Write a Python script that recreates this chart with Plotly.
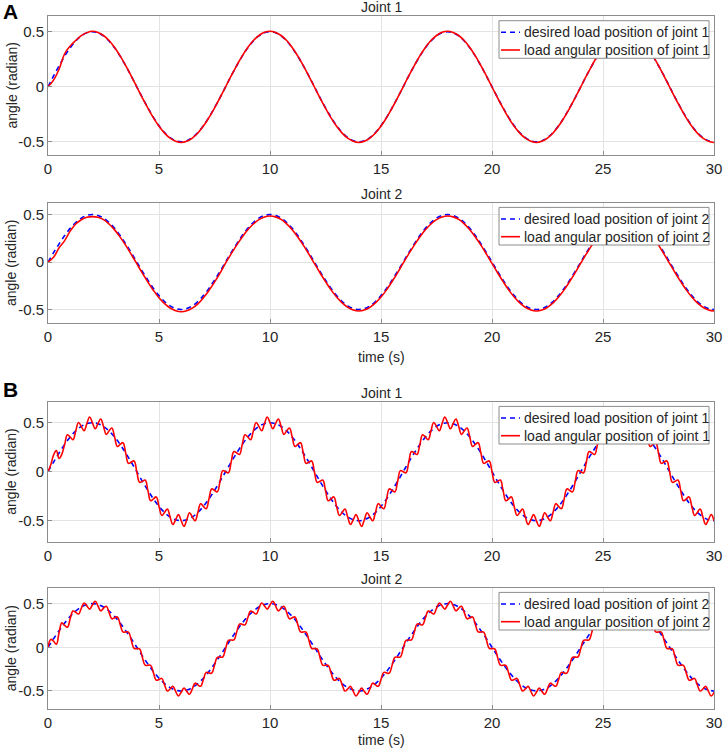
import numpy as np
import plotly.graph_objects as go

# ---------------- data ----------------
# time grids (s)
time_coarse = np.arange(0, 30.0001, 0.25)   # 121 samples
time_fine = np.arange(0, 30.0001, 0.125)    # 241 samples

# desired load position (same reference for both joints), sampled every 0.25 s
desired_pos = [
    0.000, 0.098, 0.191, 0.278, 0.354, 0.416, 0.462, 0.490, 0.500, 0.490, 0.462, 0.416, 0.354, 0.278, 0.191, 0.098,
    0.000, -0.098, -0.191, -0.278, -0.354, -0.416, -0.462, -0.490, -0.500, -0.490, -0.462, -0.416, -0.354, -0.278, -0.191, -0.098,
    0.000, 0.098, 0.191, 0.278, 0.354, 0.416, 0.462, 0.490, 0.500, 0.490, 0.462, 0.416, 0.354, 0.278, 0.191, 0.098,
    0.000, -0.098, -0.191, -0.278, -0.354, -0.416, -0.462, -0.490, -0.500, -0.490, -0.462, -0.416, -0.354, -0.278, -0.191, -0.098,
    0.000, 0.098, 0.191, 0.278, 0.354, 0.416, 0.462, 0.490, 0.500, 0.490, 0.462, 0.416, 0.354, 0.278, 0.191, 0.098,
    0.000, -0.098, -0.191, -0.278, -0.354, -0.416, -0.462, -0.490, -0.500, -0.490, -0.462, -0.416, -0.354, -0.278, -0.191, -0.098,
    0.000, 0.098, 0.191, 0.278, 0.354, 0.416, 0.462, 0.490, 0.500, 0.490, 0.462, 0.416, 0.354, 0.278, 0.191, 0.098,
    0.000, -0.098, -0.191, -0.278, -0.354, -0.416, -0.462, -0.490, -0.500,
]

# Panel A, joint 1: load angular position (every 0.25 s)
a_joint1_load = [
    0.000, 0.060, 0.160, 0.300, 0.370, 0.420, 0.465, 0.492, 0.505, 0.494, 0.466, 0.420, 0.357, 0.280, 0.192, 0.097,
    -0.002, -0.101, -0.195, -0.283, -0.359, -0.421, -0.467, -0.495, -0.506, -0.495, -0.466, -0.420, -0.357, -0.280, -0.193, -0.099,
    0.000, 0.099, 0.193, 0.281, 0.357, 0.420, 0.466, 0.495, 0.505, 0.494, 0.466, 0.420, 0.357, 0.280, 0.192, 0.097,
    -0.002, -0.101, -0.195, -0.283, -0.359, -0.421, -0.467, -0.495, -0.506, -0.495, -0.466, -0.420, -0.357, -0.280, -0.193, -0.099,
    0.000, 0.099, 0.193, 0.281, 0.357, 0.420, 0.466, 0.495, 0.505, 0.494, 0.466, 0.420, 0.357, 0.280, 0.192, 0.097,
    -0.002, -0.101, -0.195, -0.283, -0.359, -0.421, -0.467, -0.495, -0.506, -0.495, -0.466, -0.420, -0.357, -0.280, -0.193, -0.099,
    0.000, 0.099, 0.193, 0.281, 0.357, 0.420, 0.466, 0.495, 0.505, 0.494, 0.466, 0.420, 0.357, 0.280, 0.192, 0.097,
    -0.002, -0.101, -0.195, -0.283, -0.359, -0.421, -0.467, -0.495, -0.506,
]

# Panel A, joint 2: load angular position (every 0.25 s)
a_joint2_load = [
    0.000, 0.050, 0.150, 0.225, 0.325, 0.400, 0.445, 0.470, 0.478, 0.470, 0.446, 0.400, 0.338, 0.262, 0.175, 0.080,
    -0.018, -0.117, -0.211, -0.299, -0.376, -0.438, -0.484, -0.512, -0.524, -0.514, -0.486, -0.440, -0.377, -0.300, -0.212, -0.116,
    -0.012, 0.085, 0.178, 0.264, 0.339, 0.400, 0.446, 0.474, 0.484, 0.475, 0.448, 0.402, 0.340, 0.264, 0.177, 0.083,
    -0.015, -0.113, -0.206, -0.293, -0.368, -0.430, -0.476, -0.504, -0.515, -0.505, -0.477, -0.431, -0.369, -0.293, -0.205, -0.111,
    -0.012, 0.085, 0.178, 0.264, 0.339, 0.400, 0.446, 0.474, 0.484, 0.475, 0.448, 0.402, 0.340, 0.264, 0.177, 0.083,
    -0.015, -0.113, -0.206, -0.293, -0.368, -0.430, -0.476, -0.504, -0.515, -0.505, -0.477, -0.431, -0.369, -0.293, -0.205, -0.111,
    -0.012, 0.085, 0.178, 0.264, 0.339, 0.400, 0.446, 0.474, 0.484, 0.475, 0.448, 0.402, 0.340, 0.264, 0.177, 0.083,
    -0.015, -0.113, -0.206, -0.293, -0.368, -0.430, -0.476, -0.504, -0.515,
]

# Panel B, joint 1: load angular position with ripple (every 0.125 s)
b_joint1_load = [
    0.000, 0.070, 0.170, 0.215, 0.135, 0.180, 0.278, 0.377, 0.354, 0.326, 0.416, 0.501, 0.462, 0.418, 0.490, 0.558,
    0.500, 0.438, 0.490, 0.538, 0.462, 0.381, 0.416, 0.446, 0.354, 0.257, 0.278, 0.296, 0.191, 0.085, 0.098, 0.109,
    0.000, -0.109, -0.098, -0.085, -0.191, -0.296, -0.278, -0.257, -0.354, -0.446, -0.416, -0.381, -0.462, -0.538, -0.490, -0.438,
    -0.500, -0.558, -0.490, -0.418, -0.462, -0.501, -0.416, -0.326, -0.354, -0.377, -0.278, -0.176, -0.191, -0.205, -0.098, 0.011,
    0.000, -0.011, 0.098, 0.205, 0.191, 0.176, 0.278, 0.377, 0.354, 0.326, 0.416, 0.501, 0.462, 0.418, 0.490, 0.558,
    0.500, 0.438, 0.490, 0.538, 0.462, 0.381, 0.416, 0.446, 0.354, 0.257, 0.278, 0.296, 0.191, 0.085, 0.098, 0.109,
    0.000, -0.109, -0.098, -0.085, -0.191, -0.296, -0.278, -0.257, -0.354, -0.446, -0.416, -0.381, -0.462, -0.538, -0.490, -0.438,
    -0.500, -0.558, -0.490, -0.418, -0.462, -0.501, -0.416, -0.326, -0.354, -0.377, -0.278, -0.176, -0.191, -0.205, -0.098, 0.011,
    0.000, -0.011, 0.098, 0.205, 0.191, 0.176, 0.278, 0.377, 0.354, 0.326, 0.416, 0.501, 0.462, 0.418, 0.490, 0.558,
    0.500, 0.438, 0.490, 0.538, 0.462, 0.381, 0.416, 0.446, 0.354, 0.257, 0.278, 0.296, 0.191, 0.085, 0.098, 0.109,
    0.000, -0.109, -0.098, -0.085, -0.191, -0.296, -0.278, -0.257, -0.354, -0.446, -0.416, -0.381, -0.462, -0.538, -0.490, -0.438,
    -0.500, -0.558, -0.490, -0.418, -0.462, -0.501, -0.416, -0.326, -0.354, -0.377, -0.278, -0.176, -0.191, -0.205, -0.098, 0.011,
    0.000, -0.011, 0.098, 0.205, 0.191, 0.176, 0.278, 0.377, 0.354, 0.326, 0.416, 0.501, 0.462, 0.418, 0.490, 0.558,
    0.500, 0.438, 0.490, 0.538, 0.462, 0.381, 0.416, 0.446, 0.354, 0.257, 0.278, 0.296, 0.191, 0.085, 0.098, 0.109,
    0.000, -0.109, -0.098, -0.085, -0.191, -0.296, -0.278, -0.257, -0.354, -0.446, -0.416, -0.381, -0.462, -0.538, -0.490, -0.438,
    -0.500,
]

# Panel B, joint 2: load angular position with ripple (every 0.125 s)
b_joint2_load = [
    0.000, 0.090, 0.070, 0.035, 0.170, 0.280, 0.250, 0.230, 0.330, 0.416, 0.401, 0.381, 0.447, 0.508, 0.475, 0.438,
    0.485, 0.528, 0.475, 0.418, 0.447, 0.471, 0.401, 0.326, 0.339, 0.347, 0.263, 0.176, 0.176, 0.175, 0.083, -0.011,
    -0.015, -0.019, -0.113, -0.205, -0.206, -0.206, -0.293, -0.377, -0.369, -0.356, -0.431, -0.501, -0.477, -0.448, -0.505, -0.558,
    -0.515, -0.468, -0.505, -0.538, -0.477, -0.411, -0.431, -0.446, -0.369, -0.287, -0.293, -0.296, -0.206, -0.115, -0.113, -0.109,
    -0.015, 0.079, 0.083, 0.085, 0.176, 0.266, 0.263, 0.257, 0.339, 0.416, 0.401, 0.381, 0.447, 0.508, 0.475, 0.438,
    0.485, 0.528, 0.475, 0.418, 0.447, 0.471, 0.401, 0.326, 0.339, 0.347, 0.263, 0.176, 0.176, 0.175, 0.083, -0.011,
    -0.015, -0.019, -0.113, -0.205, -0.206, -0.206, -0.293, -0.377, -0.369, -0.356, -0.431, -0.501, -0.477, -0.448, -0.505, -0.558,
    -0.515, -0.468, -0.505, -0.538, -0.477, -0.411, -0.431, -0.446, -0.369, -0.287, -0.293, -0.296, -0.206, -0.115, -0.113, -0.109,
    -0.015, 0.079, 0.083, 0.085, 0.176, 0.266, 0.263, 0.257, 0.339, 0.416, 0.401, 0.381, 0.447, 0.508, 0.475, 0.438,
    0.485, 0.528, 0.475, 0.418, 0.447, 0.471, 0.401, 0.326, 0.339, 0.347, 0.263, 0.176, 0.176, 0.175, 0.083, -0.011,
    -0.015, -0.019, -0.113, -0.205, -0.206, -0.206, -0.293, -0.377, -0.369, -0.356, -0.431, -0.501, -0.477, -0.448, -0.505, -0.558,
    -0.515, -0.468, -0.505, -0.538, -0.477, -0.411, -0.431, -0.446, -0.369, -0.287, -0.293, -0.296, -0.206, -0.115, -0.113, -0.109,
    -0.015, 0.079, 0.083, 0.085, 0.176, 0.266, 0.263, 0.257, 0.339, 0.416, 0.401, 0.381, 0.447, 0.508, 0.475, 0.438,
    0.485, 0.528, 0.475, 0.418, 0.447, 0.471, 0.401, 0.326, 0.339, 0.347, 0.263, 0.176, 0.176, 0.175, 0.083, -0.011,
    -0.015, -0.019, -0.113, -0.205, -0.206, -0.206, -0.293, -0.377, -0.369, -0.356, -0.431, -0.501, -0.477, -0.448, -0.505, -0.558,
    -0.515,
]

x_ticks = [0, 5, 10, 15, 20, 25, 30]
y_ticks = [-0.5, 0, 0.5]
y_tick_text = ["-0.5", "0", "0.5"]
panel_titles = ["Joint 1", "Joint 2", "Joint 1", "Joint 2"]
desired_names = ["desired load position of joint 1", "desired load position of joint 2"]
load_names = ["load angular position of joint 1", "load angular position of joint 2"]

# ---------------- layout geometry (pixels) ----------------
W, H = 726, 751
FONT = "Liberation Sans, Arial, Helvetica, sans-serif"
TXT = "#262626"
BLUE, RED = "#0000ff", "#ff0000"
BOXC = "#8c8c8c"
x_left, x_right = 48, 714
# (top, bottom) pixel rows of each axes box, and y ranges
boxes = [(16, 155), (202.7, 323.3), (401.7, 541.7), (587.7, 709)]
y_ranges = [(-0.62, 0.643), (-0.645, 0.624), (-0.714, 0.714), (-0.707, 0.683)]


def px_x(p):
    return p / W


def px_y(p):
    return 1 - p / H


panels = [
    (time_coarse, desired_pos, time_coarse, a_joint1_load, 0),
    (time_coarse, desired_pos, time_coarse, a_joint2_load, 1),
    (time_coarse, desired_pos, time_fine, b_joint1_load, 0),
    (time_coarse, desired_pos, time_fine, b_joint2_load, 1),
]

fig = go.Figure()
annotations = []
shapes = []

for i, (td, yd, tl, yl, j) in enumerate(panels):
    n = i + 1
    xa = "x" if n == 1 else f"x{n}"
    ya = "y" if n == 1 else f"y{n}"
    fig.add_trace(go.Scatter(
        x=td, y=yd, mode="lines", name=desired_names[j], showlegend=False,
        line=dict(color=BLUE, width=1.6, dash="5px,4px", shape="spline"),
        xaxis=xa, yaxis=ya,
    ))
    fig.add_trace(go.Scatter(
        x=tl, y=yl, mode="lines", name=load_names[j], showlegend=False,
        line=dict(color=RED, width=1.6, shape="spline", smoothing=1.2),
        xaxis=xa, yaxis=ya,
    ))

    top, bot = boxes[i]
    axis_common = dict(
        showgrid=True, gridcolor="#e3e3e3", gridwidth=1,
        showline=True, mirror=True, linecolor=BOXC, linewidth=1,
        ticks="inside", ticklen=4, tickcolor=BOXC, automargin=False,
        zeroline=False, tickfont=dict(family=FONT, size=15, color=TXT),
    )
    fig.layout[f"xaxis{'' if n == 1 else n}"] = dict(
        domain=[px_x(x_left), px_x(x_right)], anchor=ya, range=[0, 30],
        tickmode="array", tickvals=x_ticks, **axis_common,
    )
    fig.layout[f"yaxis{'' if n == 1 else n}"] = dict(
        domain=[px_y(bot), px_y(top)], anchor=xa, range=list(y_ranges[i]),
        tickmode="array", tickvals=y_ticks, ticktext=y_tick_text, **axis_common,
    )

    # legend box (drawn as layout shapes + text, MATLAB style)
    lx0, lx1 = 499, 709
    ly0, ly1 = top + 4.7, top + 42.3
    shapes.append(dict(type="rect", xref="paper", yref="paper",
                       x0=px_x(lx0), x1=px_x(lx1), y0=px_y(ly1), y1=px_y(ly0),
                       line=dict(color=BOXC, width=1), fillcolor="white", layer="above"))
    rows = [(top + 16.3, BLUE, "5px,4px", desired_names[j]),
            (top + 34.0, RED, "solid", load_names[j])]
    for ry, col, dash, label in rows:
        shapes.append(dict(type="line", xref="paper", yref="paper",
                           x0=px_x(501), x1=px_x(520), y0=px_y(ry), y1=px_y(ry),
                           line=dict(color=col, width=1.6, dash=dash), layer="above"))
        annotations.append(dict(
            text=label, x=px_x(522), y=px_y(ry), xref="paper", yref="paper",
            xanchor="left", yanchor="middle", showarrow=False,
            font=dict(family=FONT, size=14, color=TXT),
        ))

    # panel title
    annotations.append(dict(
        text=panel_titles[i], x=px_x((x_left + x_right) / 2), y=px_y(top - 9),
        xref="paper", yref="paper", xanchor="center", yanchor="middle",
        showarrow=False, font=dict(family=FONT, size=14, color=TXT),
    ))
    # y-axis title
    annotations.append(dict(
        text="angle (radian)", x=px_x(11), y=px_y((top + bot) / 2),
        xref="paper", yref="paper", xanchor="center", yanchor="middle",
        textangle=-90, showarrow=False, font=dict(family=FONT, size=14, color=TXT),
    ))

# x-axis titles
for ypix in (357, 740):
    annotations.append(dict(
        text="time (s)", x=px_x((x_left + x_right) / 2), y=px_y(ypix),
        xref="paper", yref="paper", xanchor="center", yanchor="middle",
        showarrow=False, font=dict(family=FONT, size=14, color=TXT),
    ))

# panel letters
for letter, ypix in (("A", 12), ("B", 389)):
    annotations.append(dict(
        text=f"<b>{letter}</b>", x=px_x(1), y=px_y(ypix),
        xref="paper", yref="paper", xanchor="left", yanchor="middle",
        showarrow=False, font=dict(family=FONT, size=21, color="#000000"),
    ))

fig.update_layout(
    width=W, height=H, margin=dict(l=0, r=0, t=0, b=0, autoexpand=False),
    paper_bgcolor="white", plot_bgcolor="white", hovermode=False,
    showlegend=False, annotations=annotations, shapes=shapes,
    font=dict(family=FONT, size=14, color=TXT),
)

# remove the browser's default page margin so the figure sits at the window origin
fig.write_html(
    "out.html",
    config={"displayModeBar": False, "staticPlot": True},
    post_script="document.body.style.margin='0';document.body.style.padding='0';",
)
